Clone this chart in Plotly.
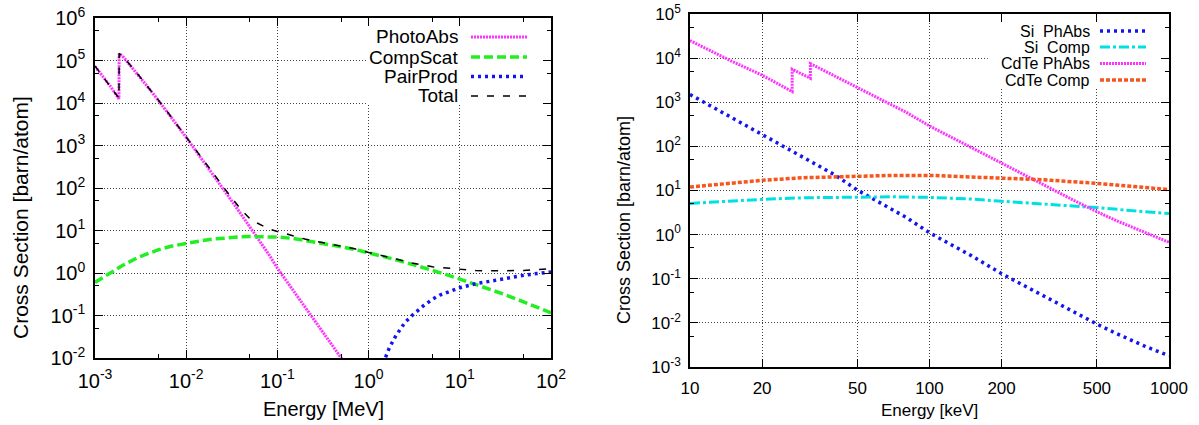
import plotly.graph_objects as go

# ---------------- Left panel data (Si, energy in MeV, barn/atom) ----------------
e_photo = [0.001, 0.0015, 0.00183, 0.00184, 0.002, 0.003, 0.004, 0.005, 0.006, 0.008,
           0.01, 0.015, 0.02, 0.03, 0.04, 0.05, 0.06, 0.08, 0.1, 0.15, 0.2, 0.3, 0.4, 0.5, 0.6]
photo = [7.3e4, 2.35e4, 1.25e4, 1.45e5, 1.28e5, 4.5e4, 2.07e4, 1.12e4, 6.8e3, 2.95e3,
         1.55e3, 470, 198, 58, 24, 12, 6.8, 2.8, 1.3, 0.38, 0.155, 0.045, 0.019, 0.0098, 0.0058]

e_comp = [0.001, 0.0015, 0.002, 0.003, 0.005, 0.007, 0.01, 0.015, 0.02, 0.03, 0.04, 0.05,
          0.07, 0.1, 0.15, 0.2, 0.3, 0.5, 0.7, 1, 1.5, 2, 3, 5, 7, 10, 15, 20, 30, 50, 70, 100]
comp = [0.6, 1.05, 1.5, 2.35, 3.55, 4.3, 5.0, 5.8, 6.3, 6.85, 7.1, 7.2,
        7.2, 7.0, 6.5, 5.9, 5.1, 4.15, 3.6, 3.0, 2.4, 2.05, 1.6, 1.17, 0.93, 0.72, 0.54, 0.44, 0.32, 0.21, 0.16, 0.115]

e_pair = [1.4, 1.5, 1.7, 2, 2.5, 3, 4, 5, 6, 8, 10, 15, 20, 30, 50, 70, 100]
pair = [0.005, 0.0092, 0.018, 0.034, 0.068, 0.1, 0.17, 0.24, 0.3, 0.38, 0.45, 0.56, 0.63, 0.74, 0.88, 0.97, 1.06]

e_total = [0.001, 0.0015, 0.00183, 0.00184, 0.002, 0.003, 0.004, 0.005, 0.006, 0.008, 0.01,
           0.015, 0.02, 0.03, 0.04, 0.05, 0.06, 0.08, 0.1, 0.15, 0.2, 0.3, 0.5, 0.7, 1, 1.5,
           2, 3, 5, 7, 10, 15, 20, 30, 50, 70, 100]
total = [7.4e4, 2.4e4, 1.3e4, 1.46e5, 1.29e5, 4.55e4, 2.1e4, 1.14e4, 6.9e3, 3.0e3, 1.57e3,
         480, 207, 67, 31, 19, 15, 11, 9.5, 7.3, 6.3, 5.3, 4.3, 3.7, 3.05, 2.45,
         2.1, 1.72, 1.4, 1.3, 1.2, 1.14, 1.12, 1.12, 1.15, 1.2, 1.27]

# ---------------- Right panel data (energy in keV, barn/atom) ----------------
e_si_pa = [10, 15, 20, 30, 40, 50, 60, 80, 100, 150, 200, 300, 400, 500, 600, 800, 1000]
si_pa = [1.5e3, 4.4e2, 1.83e2, 53, 23, 10.2, 5.9, 2.45, 1.1, 0.33, 0.13, 0.04, 0.0175, 0.0094, 0.0058, 0.0029, 0.0018]

e_comp_k = [10, 15, 20, 30, 50, 70, 100, 150, 200, 300, 500, 700, 1000]
si_comp = [5.1, 5.8, 6.3, 6.85, 7.2, 7.2, 7.0, 6.4, 5.7, 5.0, 4.1, 3.5, 3.0]

e_cd_pa = [10, 15, 20, 26.7, 26.71, 30, 31.8, 31.81, 40, 50, 60, 80, 100, 150, 200, 300, 400, 500, 600, 800, 1000]
cd_pa = [2.5e4, 8.4e3, 4.1e3, 1.75e3, 5.6e3, 4.1e3, 3.5e3, 7.5e3, 4.0e3, 2.2e3, 1.3e3, 590, 290, 93, 41, 13.2, 6.0, 3.3, 2.1, 1.1, 0.67]

cd_comp = [12, 15, 17, 19.5, 21.5, 22, 22, 20.5, 19.5, 17.5, 14.5, 12.5, 10.5]

# ticks
lx_ticks = [1e-3, 1e-2, 1e-1, 1, 10, 100]
lx_text = ["10<sup>-3</sup>", "10<sup>-2</sup>", "10<sup>-1</sup>", "10<sup>0</sup>", "10<sup>1</sup>", "10<sup>2</sup>"]
ly_ticks = [1e-2, 1e-1, 1, 10, 1e2, 1e3, 1e4, 1e5, 1e6]
ly_text = ["10<sup>-2</sup>", "10<sup>-1</sup>", "10<sup>0</sup>", "10<sup>1</sup>", "10<sup>2</sup>",
           "10<sup>3</sup>", "10<sup>4</sup>", "10<sup>5</sup>", "10<sup>6</sup>"]
rx_ticks = [10, 20, 50, 100, 200, 500, 1000]
rx_text = ["10", "20", "50", "100", "200", "500", "1000"]
ry_ticks = [1e-3, 1e-2, 1e-1, 1, 10, 1e2, 1e3, 1e4, 1e5]
ry_text = ["10<sup>-3</sup>", "10<sup>-2</sup>", "10<sup>-1</sup>", "10<sup>0</sup>", "10<sup>1</sup>",
           "10<sup>2</sup>", "10<sup>3</sup>", "10<sup>4</sup>", "10<sup>5</sup>"]

MAG = "#ff33ff"
GRN = "#22ee22"
BLU = "#1414f0"
CYA = "#00e0e0"
ORG = "#f5561e"
FONT = "Liberation Sans, Arial, sans-serif"

DOTDENSE = "2px,1px"
GDASH = "9px,4px"
BDOT = "3px,4px"
TDASH = "7px,9px"
CDASHDOT = "10px,3px,3px,3px"
ODASH = "4px,2px"

fig = go.Figure()
# left traces
fig.add_trace(go.Scatter(x=e_photo, y=photo, mode="lines", line=dict(color=MAG, width=3, dash=DOTDENSE), xaxis="x", yaxis="y"))
fig.add_trace(go.Scatter(x=e_comp, y=comp, mode="lines", line=dict(color=GRN, width=3.5, dash=GDASH), xaxis="x", yaxis="y"))
fig.add_trace(go.Scatter(x=e_pair, y=pair, mode="lines", line=dict(color=BLU, width=3.5, dash=BDOT), xaxis="x", yaxis="y"))
fig.add_trace(go.Scatter(x=e_total, y=total, mode="lines", line=dict(color="black", width=1.5, dash=TDASH), xaxis="x", yaxis="y"))
# right traces
fig.add_trace(go.Scatter(x=e_si_pa, y=si_pa, mode="lines", line=dict(color=BLU, width=3.5, dash=BDOT), xaxis="x2", yaxis="y2"))
fig.add_trace(go.Scatter(x=e_comp_k, y=si_comp, mode="lines", line=dict(color=CYA, width=3, dash=CDASHDOT), xaxis="x2", yaxis="y2"))
fig.add_trace(go.Scatter(x=e_cd_pa, y=cd_pa, mode="lines", line=dict(color=MAG, width=3, dash=DOTDENSE), xaxis="x2", yaxis="y2"))
fig.add_trace(go.Scatter(x=e_comp_k, y=cd_comp, mode="lines", line=dict(color=ORG, width=3.5, dash=ODASH), xaxis="x2", yaxis="y2"))

W, H = 1199, 425
L = dict(x0=95, x1=551, y0=18, y1=358)
R = dict(x0=690, x1=1169, y0=14, y1=367)

def px(x):
    return x / W

def py(y):
    return (H - y) / H

def axis_common(size):
    return dict(type="log", showline=True, linecolor="black", linewidth=1.5, mirror="ticks",
                ticks="inside", ticklen=8, tickwidth=1, tickcolor="black", automargin=False,
                showgrid=True, gridcolor="#444444", gridwidth=1, griddash="1px,2px",
                zeroline=False, tickfont=dict(family=FONT, size=size, color="black"))

lxa = axis_common(20)
lxa.update(domain=[px(L["x0"]), px(L["x1"])], anchor="y", range=[-3, 2], tickvals=lx_ticks, ticktext=lx_text,
           ticklabelstandoff=4,
           minor=dict(tickvals=[5e-3, 5e-2, 0.5, 5, 50], ticks="inside", ticklen=4, tickcolor="black", showgrid=False))
lya = axis_common(20)
lya.update(domain=[py(L["y1"]), py(L["y0"])], anchor="x", range=[-2, 6], tickvals=ly_ticks, ticktext=ly_text,
           ticklabelstandoff=4,
           minor=dict(tickvals=[5e-2, 0.5, 5, 50, 5e2, 5e3, 5e4, 5e5], ticks="inside", ticklen=4, tickcolor="black", showgrid=False))
rxa = axis_common(17)
rxa.update(domain=[px(R["x0"]), px(R["x1"])], anchor="y2", range=[1, 3], tickvals=rx_ticks, ticktext=rx_text,
           ticklabelstandoff=5)
rya = axis_common(17)
rya.update(domain=[py(R["y1"]), py(R["y0"])], anchor="x2", range=[-3, 5], tickvals=ry_ticks, ticktext=ry_text,
           ticklabelstandoff=4,
           minor=dict(tickvals=[5e-3, 5e-2, 0.5, 5, 50, 5e2, 5e3, 5e4], ticks="inside", ticklen=4, tickcolor="black", showgrid=False))

annotations = [
    dict(text="Energy [MeV]", x=px((L["x0"] + L["x1"]) / 2), y=py(409), xref="paper", yref="paper",
         showarrow=False, xanchor="center", yanchor="middle", font=dict(family=FONT, size=20, color="black")),
    dict(text="Cross Section [barn/atom]", x=px(20), y=py(218), xref="paper", yref="paper", textangle=-90,
         showarrow=False, xanchor="center", yanchor="middle", font=dict(family=FONT, size=21, color="black")),
    dict(text="Energy [keV]", x=px((R["x0"] + R["x1"]) / 2), y=py(410), xref="paper", yref="paper",
         showarrow=False, xanchor="center", yanchor="middle", font=dict(family=FONT, size=17, color="black")),
    dict(text="Cross Section [barn/atom]", x=px(624), y=py(220), xref="paper", yref="paper", textangle=-90,
         showarrow=False, xanchor="center", yanchor="middle", font=dict(family=FONT, size=18, color="black")),
]

shapes = [
    # key boxes (opaque, hide grid); data coordinates on the log axes
    dict(type="rect", xref="x", yref="y", x0=0.97, x1=100, y0=9.5e3, y1=1e6,
         fillcolor="white", line=dict(width=0), layer="between"),
    dict(type="rect", xref="x2", yref="y2", x0=175, x1=1000, y0=2.1e3, y1=1e5,
         fillcolor="white", line=dict(width=0), layer="between"),
]

left_key = [("PhotoAbs", MAG, 3, DOTDENSE, 37), ("CompScat", GRN, 3.5, GDASH, 57),
            ("PairProd", BLU, 3.5, BDOT, 76.5), ("Total", "black", 1.5, TDASH, 96)]
for name, col, w, d, yy in left_key:
    annotations.append(dict(text=name, x=px(459), y=py(yy), xref="paper", yref="paper", showarrow=False,
                            xanchor="right", yanchor="middle", borderpad=0,
                            font=dict(family=FONT, size=19, color="black")))
    shapes.append(dict(type="line", xref="paper", yref="paper", x0=px(471), x1=px(527), y0=py(yy), y1=py(yy),
                       layer="above", line=dict(color=col, width=w, dash=d)))

right_key = [("Si  PhAbs", BLU, 3.5, BDOT, 31), ("Si  Comp", CYA, 3, CDASHDOT, 47),
             ("CdTe PhAbs", MAG, 3, DOTDENSE, 63.5), ("CdTe Comp", ORG, 3.5, ODASH, 80)]
for name, col, w, d, yy in right_key:
    annotations.append(dict(text=name.replace(" ", "&nbsp;"), x=px(1091), y=py(yy), xref="paper", yref="paper", showarrow=False,
                            xanchor="right", yanchor="middle", borderpad=0,
                            font=dict(family=FONT, size=16, color="black")))
    shapes.append(dict(type="line", xref="paper", yref="paper", x0=px(1100), x1=px(1146), y0=py(yy), y1=py(yy),
                       layer="above", line=dict(color=col, width=w, dash=d)))

fig.update_layout(
    template="none",
    width=W, height=H, margin=dict(l=0, r=0, t=0, b=0, pad=0, autoexpand=False),
    paper_bgcolor="white", plot_bgcolor="white", showlegend=False,
    xaxis=lxa, yaxis=lya, xaxis2=rxa, yaxis2=rya,
    annotations=annotations, shapes=shapes,
    font=dict(family=FONT, color="black"),
)

fig.write_html("out.html", config={"displayModeBar": False},
               post_script="document.body.style.margin='0px';document.body.style.overflow='hidden';")
